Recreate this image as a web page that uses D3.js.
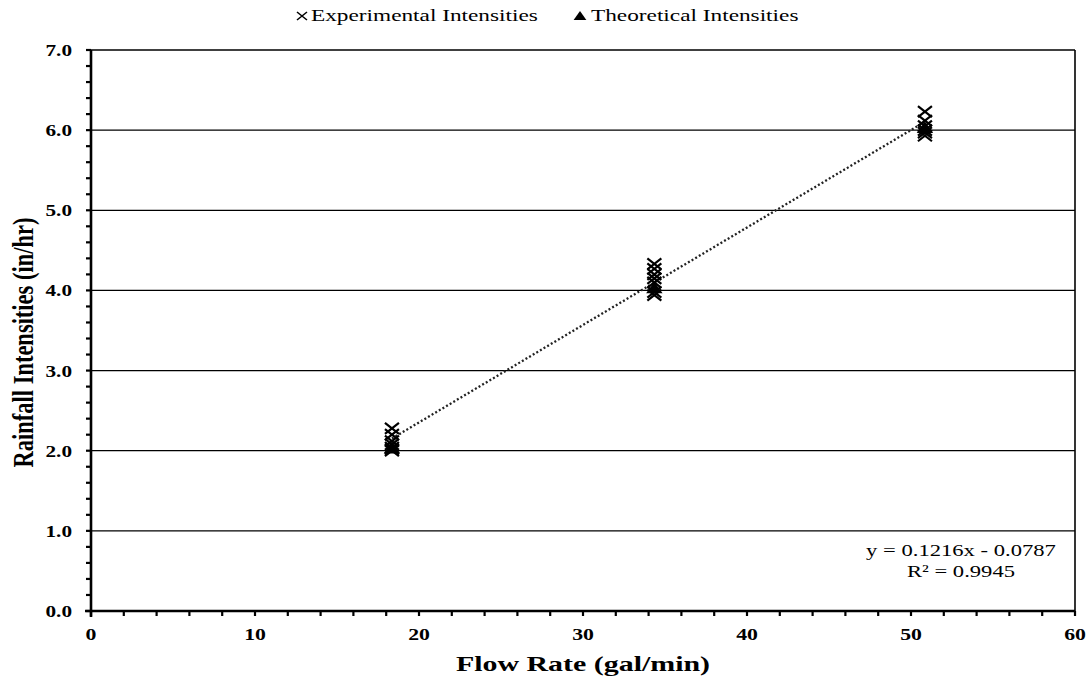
<!DOCTYPE html>
<html>
<head>
<meta charset="utf-8">
<script src="https://cdn.jsdelivr.net/npm/d3@7"></script>
<style>
  html, body { margin: 0; padding: 0; background: #fff; }
  svg { display: block; font-family: "Liberation Serif", "Times New Roman", serif; }
</style>
</head>
<body>
<svg id="chart" width="1091" height="679"></svg>
<script>
// Flow rate (gal/min) and measured rainfall intensities (in/hr)
const expFlow = [18.35, 18.35, 18.35, 18.35, 18.35, 18.35, 18.35,
                 34.35, 34.35, 34.35, 34.35, 34.35, 34.35, 34.35,
                 50.85, 50.85, 50.85, 50.85, 50.85, 50.85];
const expIntensity = [2.28, 2.20, 2.12, 2.08, 2.04, 2.02, 2.00,
                      4.33, 4.27, 4.20, 4.15, 4.10, 3.98, 3.94,
                      6.23, 6.12, 6.05, 6.00, 5.97, 5.93];

// Design (theoretical) intensities
const theoFlow = [18.35, 34.35, 50.85];
const theoIntensity = [2.0, 4.0, 6.0];

// Linear trend fitted to the experimental points
const trendSlope = 0.1216;
const trendIntercept = -0.0787;
const trendR2 = 0.9945;
const trendRange = [18.35, 50.85];

const xMajorTicks = [0, 10, 20, 30, 40, 50, 60];
const yMajorTicks = [0, 1, 2, 3, 4, 5, 6, 7];

const svg = d3.select("#chart");
const margin = { left: 91, right: 16, top: 50, bottom: 68 };
const W = 1091, H = 679;
const SX = 1.33; // wide text aspect

const x = d3.scaleLinear().domain([0, 60]).range([margin.left, W - margin.right]);
const y = d3.scaleLinear().domain([0, 7]).range([H - margin.bottom, margin.top]);

// text stretched horizontally, anchored at (px, py)
function wideText(parent, px, py, str, size, anchor, bold, sx = SX) {
  const g = parent.append("g").attr("transform", `translate(${px},${py}) scale(${sx},1)`);
  g.append("text")
    .attr("text-anchor", anchor)
    .attr("font-size", size)
    .attr("font-weight", bold ? "bold" : "normal")
    .text(str);
  return g;
}

// horizontal gridlines
svg.append("g").selectAll("line").data(yMajorTicks.filter(d => d > 0)).join("line")
  .attr("x1", x(0)).attr("x2", x(60))
  .attr("y1", d => y(d)).attr("y2", d => y(d))
  .attr("stroke", "#000").attr("stroke-width", 1.3);

// right border
svg.append("line")
  .attr("x1", x(60)).attr("x2", x(60)).attr("y1", y(0)).attr("y2", y(7))
  .attr("stroke", "#000").attr("stroke-width", 1.6);

// minor ticks
const xMinor = d3.range(0, 60.001, 2);
const yMinor = d3.range(0, 7.001, 0.2);

const xAxis = svg.append("g").attr("transform", `translate(0,${y(0)})`);
xAxis.selectAll("line.minor").data(xMinor).join("line")
  .attr("x1", d => x(d)).attr("x2", d => x(d)).attr("y1", 0).attr("y2", 5)
  .attr("stroke", "#000").attr("stroke-width", 2.2);
xAxis.append("line").attr("x1", x(0) - 6).attr("x2", x(60)).attr("y1", 0).attr("y2", 0)
  .attr("stroke", "#000").attr("stroke-width", 2.6);
xMajorTicks.forEach(d => wideText(xAxis, x(d), 29, d, 17, "middle", true, 1.28));

const yAxis = svg.append("g").attr("transform", `translate(${x(0)},0)`);
yAxis.selectAll("line.minor").data(yMinor).join("line")
  .attr("x1", -5).attr("x2", 0).attr("y1", d => y(d)).attr("y2", d => y(d))
  .attr("stroke", "#000").attr("stroke-width", 2.2);
yAxis.append("line").attr("x1", 0).attr("x2", 0).attr("y1", y(0) + 6).attr("y2", y(7))
  .attr("stroke", "#000").attr("stroke-width", 2.6);
yMajorTicks.forEach(d => wideText(yAxis, -19, y(d) + 6, d.toFixed(1), 17, "end", true, 1.25));

// axis titles
wideText(svg, (x(0) + x(60)) / 2, 671, "Flow Rate (gal/min)", 22, "middle", true, 1.36);

svg.append("g")
  .attr("transform", `translate(33,${(y(0) + y(7)) / 2 + 12}) rotate(-90) scale(1,1.32)`)
  .append("text")
  .attr("text-anchor", "middle")
  .attr("font-size", 22.5).attr("font-weight", "bold")
  .text("Rainfall Intensities (in/hr)");

// trend line
svg.append("line")
  .attr("x1", x(trendRange[0])).attr("y1", y(trendSlope * trendRange[0] + trendIntercept))
  .attr("x2", x(trendRange[1])).attr("y2", y(trendSlope * trendRange[1] + trendIntercept))
  .attr("stroke", "#222").attr("stroke-width", 2.3)
  .attr("stroke-dasharray", "2,2.2");

// theoretical markers (filled triangles)
const tri = d3.symbol().type(d3.symbolTriangle).size(75);
svg.append("g").selectAll("path").data(theoFlow.map((f, i) => [f, theoIntensity[i]])).join("path")
  .attr("d", tri)
  .attr("transform", d => `translate(${x(d[0])},${y(d[1]) - 1}) scale(1.25,1)`)
  .attr("fill", "#000");

// experimental markers (crosses)
const cw = 7, ch = 5.5;
svg.append("g").selectAll("path").data(expFlow.map((f, i) => [f, expIntensity[i]])).join("path")
  .attr("transform", d => `translate(${x(d[0])},${y(d[1])})`)
  .attr("d", `M${-cw},${-ch}L${cw},${ch}M${-cw},${ch}L${cw},${-ch}`)
  .attr("stroke", "#000").attr("stroke-width", 2.2).attr("fill", "none");

// regression equation
wideText(svg, 961, 556, `y = ${trendSlope}x - ${Math.abs(trendIntercept)}`, 17, "middle", false);
wideText(svg, 961, 577, `R² = ${trendR2}`, 17, "middle", false);

// legend
const legend = svg.append("g");
legend.append("path")
  .attr("d", "M297,12L307,20M297,20L307,12")
  .attr("stroke", "#000").attr("stroke-width", 1.6);
wideText(legend, 311, 21, "Experimental Intensities", 17, "start", false, 1.37);
legend.append("path")
  .attr("d", d3.symbol().type(d3.symbolTriangle).size(45))
  .attr("transform", "translate(580,17) scale(1.25,1)").attr("fill", "#000");
wideText(legend, 591, 21, "Theoretical Intensities", 17, "start", false, 1.37);
</script>
</body>
</html>
